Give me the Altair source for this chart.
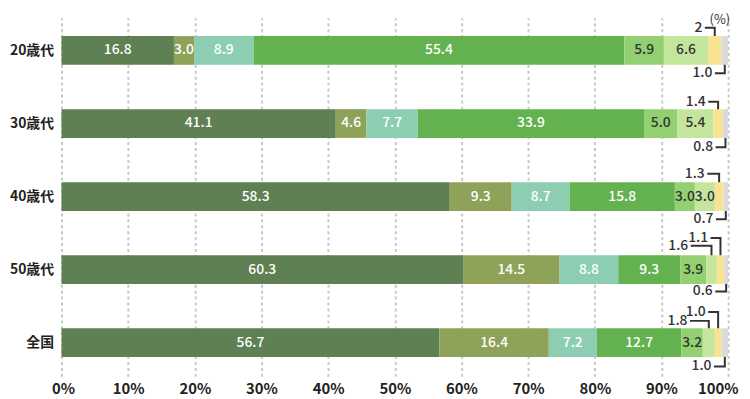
import json
import altair as alt
import pandas as pd

# ---- data ----
rows = ["20歳代", "30歳代", "40歳代", "50歳代", "全国"]
segments = ["区分1", "区分2", "区分3", "区分4", "区分5", "区分6", "区分7", "区分8"]
colors = ["#5e8053", "#8fa25a", "#8dceb3", "#63b24f", "#93d071", "#c4e59e", "#f8e490", "#dadada"]
v20 = [16.8, 3.0, 8.9, 55.4, 5.9, 6.6, 2.0, 1.0]
v30 = [41.1, 4.6, 7.7, 33.9, 5.0, 5.4, 1.4, 0.8]
v40 = [58.3, 9.3, 8.7, 15.8, 3.0, 3.0, 1.3, 0.7]
v50 = [60.3, 14.5, 8.8, 9.3, 3.9, 1.6, 1.1, 0.6]
vall = [56.7, 16.4, 7.2, 12.7, 3.2, 1.8, 1.0, 1.0]
label_override = {(0, 6): "2"}
x_ticks = [0, 10, 20, 30, 40, 50, 60, 70, 80, 90, 100]

# ---- layout (styles) ----
W, H = 673, 362
STEP = 73.75
YMIN = -33 / STEP
YMAX = (H - 33) / STEP
BAR_PX = 29
FONT = "Noto Sans CJK JP"
ux = 100.0 / W
uy = (YMAX - YMIN) / H
# callouts: (row, segment, label offset px, horizontal leader px)
callouts = [
    (0, 6, -23, 10), (0, 7, 23, 10),
    (1, 6, -22, 10), (1, 7, 24, 10),
    (2, 6, -23, 12), (2, 7, 23, 10),
    (3, 5, -24, 21), (3, 6, -32, 10), (3, 7, 22, 11),
    (4, 5, -22, 19), (4, 6, -31, 10), (4, 7, 24, 11),
]
outside = {(r, s) for r, s, _, _ in callouts}

recs = []
for ri, vals in enumerate([v20, v30, v40, v50, vall]):
    tot = sum(vals)
    cum = 0.0
    for si, v in enumerate(vals):
        x0 = cum / tot * 100
        cum += v
        x1 = cum / tot * 100
        recs.append(dict(row=ri, seg=segments[si], si=si, x0=x0, x1=x1,
                         mid=(x0 + x1) / 2,
                         label=label_override.get((ri, si), f"{v:.1f}"),
                         tcolor="#ffffff" if si < 4 else "#333333",
                         inside=(ri, si) not in outside))
df = pd.DataFrame(recs)
inside_df = df[df.inside]

line_recs, lab_recs = [], []
for k, (r, s, lev, L) in enumerate(callouts):
    rec = df[(df.row == r) & (df.si == s)].iloc[0]
    cx = rec.mid
    ylab = r + lev * uy
    yedge = r + (-1 if lev < 0 else 1) * (BAR_PX / 2) * uy
    xs = cx - L * ux
    line_recs += [dict(id=k, o=0, x=xs, y=ylab), dict(id=k, o=1, x=cx, y=ylab),
                  dict(id=k, o=2, x=cx, y=yedge)]
    lab_recs.append(dict(x=xs - 2.5 * ux, y=ylab, label=rec.label))
lines_df = pd.DataFrame(line_recs)
labs_df = pd.DataFrame(lab_recs)

xscale = alt.Scale(domain=[0, 100], nice=False, zero=True, padding=0)
yscale = alt.Scale(domain=[YMIN, YMAX], reverse=True, nice=False, zero=False, padding=0)
xaxis = alt.Axis(values=x_ticks, labelExpr="datum.value + '%'", title=None,
                 grid=True, gridDash=[3, 3], gridColor="#c8c8c8", gridWidth=2,
                 ticks=False, domain=False, labelFont=FONT, labelFontSize=15,
                 labelFontWeight="bold", labelColor="#222222", labelPadding=5,
                 labelFlush=True, labelFlushOffset=10)
yaxis = alt.Axis(values=[0, 1, 2, 3, 4], labelExpr=json.dumps(rows, ensure_ascii=False) + "[datum.value]",
                 title=None, grid=False, ticks=False, domain=False, labelFont=FONT,
                 labelFontSize=14, labelFontWeight="bold", labelColor="#222222", labelPadding=8)

bars = alt.Chart(df).mark_bar(size=BAR_PX, orient="horizontal").encode(
    x=alt.X("x0:Q", scale=xscale, axis=xaxis),
    x2="x1:Q",
    y=alt.Y("row:Q", scale=yscale, axis=yaxis),
    color=alt.Color("seg:N", scale=alt.Scale(domain=segments, range=colors), legend=None),
)

in_text = alt.Chart(inside_df).mark_text(font=FONT, fontSize=14, fontWeight=500, baseline="middle").encode(
    x=alt.X("mid:Q", scale=xscale, axis=xaxis),
    y=alt.Y("row:Q", scale=yscale, axis=yaxis),
    text="label:N",
    color=alt.Color("tcolor:N", scale=None),
)

leaders = alt.Chart(lines_df).mark_line(color="#333333", strokeWidth=2, strokeCap="butt",
                                          strokeJoin="miter").encode(
    x=alt.X("x:Q", scale=xscale, axis=xaxis),
    y=alt.Y("y:Q", scale=yscale, axis=yaxis),
    detail="id:N",
    order="o:Q",
)

out_text = alt.Chart(labs_df).mark_text(font=FONT, fontSize=14, fontWeight=500, align="right",
                                          baseline="middle", color="#333333").encode(
    x=alt.X("x:Q", scale=xscale, axis=xaxis),
    y=alt.Y("y:Q", scale=yscale, axis=yaxis),
    text="label:N",
)

unit = alt.Chart(pd.DataFrame({"x": [100], "y": [YMIN], "t": ["(%)"]})).mark_text(
    font=FONT, fontSize=13, align="right", baseline="top", dx=2, dy=-4, color="#333333").encode(
    x=alt.X("x:Q", scale=xscale, axis=xaxis),
    y=alt.Y("y:Q", scale=yscale, axis=yaxis),
    text="t:N",
)

chart = alt.layer(bars, in_text, leaders, out_text, unit).properties(
    width=W, height=H,
    autosize=alt.AutoSizeParams(type="none"),
    padding={"left": 54, "top": 8, "right": 14, "bottom": 21},
).configure_view(stroke=None)

chart.save("out.html", embed_options={"renderer": "svg", "actions": False})
